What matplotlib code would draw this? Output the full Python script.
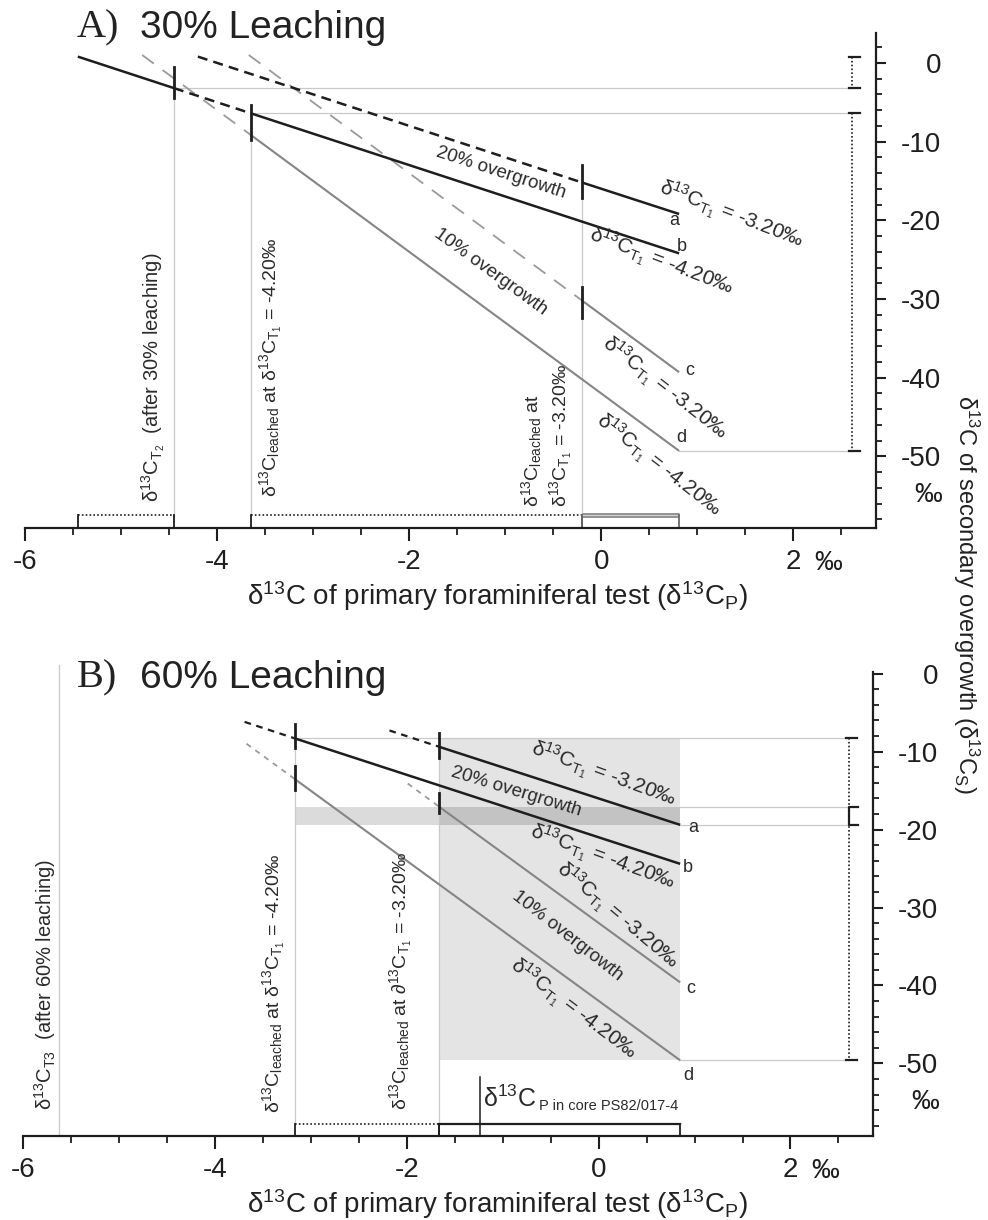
import numpy as np
import matplotlib
matplotlib.use('Agg')
import matplotlib.pyplot as plt
from matplotlib.patches import Rectangle

plt.rcParams['font.family'] = ['Liberation Sans', 'DejaVu Sans']
plt.rcParams['mathtext.fontset'] = 'custom'
plt.rcParams['mathtext.rm'] = 'Liberation Sans'
plt.rcParams['mathtext.it'] = 'Liberation Sans:italic'
plt.rcParams['mathtext.bf'] = 'Liberation Sans:bold'

BLACK = '#1e1e1e'
GRAY = '#858585'
DGRAY = '#9a9a9a'
GUIDE = '#c9c9c9'

# axis ticks
x_major = [-6, -4, -2, 0, 2]
x_labels = ['-6', '-4', '-2', '0', '2']
y_major = [0, -10, -20, -30, -40, -50]
y_labels = ['0', '-10', '-20', '-30', '-40', '-50']

# ---- panel A: 30 % leaching (d13C_P, d13C_S endpoints)
A_a_dash = ([-4.2, -0.2], [0.8, -15.2])
A_a = ([-0.2, 0.81], [-15.2, -19.2])
A_b1 = ([-5.45, -4.45], [0.8, -3.2])
A_b_dash = ([-4.45, -3.65], [-3.2, -6.4])
A_b2 = ([-3.65, 0.81], [-6.4, -24.2])
A_c_dash = ([-3.67, -0.2], [1.0, -30.2])
A_c = ([-0.2, 0.81], [-30.2, -39.3])
A_d_dash = ([-4.78, -3.65], [1.0, -9.15])
A_d = ([-3.65, 0.81], [-9.15, -49.3])
A_marks = [(-4.45, -0.5, -4.5), (-3.65, -5.3, -9.8), (-0.2, -13.0, -17.2), (-0.2, -28.5, -32.4)]

# ---- panel B: 60 % leaching
B_a_dash = ([-2.18, -1.66], [-7.3, -9.4])
B_a = ([-1.66, 0.85], [-9.4, -19.4])
B_b_dash = ([-3.69, -3.17], [-6.2, -8.3])
B_b = ([-3.17, 0.85], [-8.3, -24.4])
B_c_dash = ([-1.99, -1.66], [-14.1, -17.1])
B_c = ([-1.66, 0.85], [-17.1, -39.6])
B_d_dash = ([-3.67, -3.17], [-9.0, -13.5])
B_d = ([-3.17, 0.85], [-13.5, -49.6])
B_marks = [(-3.17, -6.5, -9.6), (-3.17, -11.9, -14.9), (-1.66, -7.6, -10.8), (-1.66, -15.3, -17.9)]
B_box = (-1.66, 0.85, -8.3, -49.6)
B_band = (-3.17, 0.85, -17.1, -19.4)
core_p = -1.24

lbl_a = 'δ$^{13}$C$_{\\mathrm{T}_1}$ = -3.20‰'
lbl_b = 'δ$^{13}$C$_{\\mathrm{T}_1}$ = -4.20‰'


def seg(ax, xy, color, lw, dashes=None):
    line, = ax.plot(xy[0], xy[1], color=color, lw=lw, solid_capstyle='butt')
    if dashes:
        line.set_dashes(dashes)


def marks(ax, ms):
    for x, y0, y1 in ms:
        ax.plot([x, x], [y0, y1], color=BLACK, lw=2)


def guide(ax, xs, ys, **kw):
    ax.plot(xs, ys, color=GUIDE, lw=0.9, **kw)


def bottom_bracket(ax, x0, x1, y, style):
    if style == 'dot':
        ax.plot([x0, x1], [y, y], color=BLACK, lw=1.2, ls=(0, (1, 1.3)))
        c, w = BLACK, 1.3
    elif style == 'gray':
        ax.plot([x0, x1], [y, y], color='#8a8a8a', lw=3.5, solid_capstyle='butt')
        ax.plot([x0, x1], [y, y], color='#d0d0d0', lw=1.0, solid_capstyle='butt')
        c, w = '#6a6a6a', 1.3
    else:
        ax.plot([x0, x1], [y, y], color=BLACK, lw=1.6)
        c, w = BLACK, 1.3
    for x in (x0, x1):
        ax.plot([x, x], [y, y - 1.6], color=c, lw=w)


def right_bracket(ax, x, y0, y1):
    ax.plot([x, x], [y0, y1], color=BLACK, lw=1.2, ls=(0, (1, 1.3)))
    for y in (y0, y1):
        ax.plot([x - 0.03, x + 0.08], [y, y], color=BLACK, lw=1.6)


def setup(ax, ylim, ymin_minor):
    ax.set_xlim(-6, 2.86)
    ax.set_ylim(*ylim)
    ax.spines['top'].set_visible(False)
    ax.spines['left'].set_visible(False)
    for s in ('bottom', 'right'):
        ax.spines[s].set_linewidth(1.6)
        ax.spines[s].set_color(BLACK)
    ax.yaxis.tick_right()
    ax.set_xticks(x_major)
    ax.set_xticklabels(x_labels)
    ax.set_xticks(np.arange(-6, 2.6, 0.5), minor=True)
    ax.set_yticks(y_major)
    ax.set_yticklabels(y_labels)
    ax.set_yticks(np.arange(-58, ymin_minor + 0.1, 2), minor=True)
    ax.tick_params(axis='x', which='major', direction='out', length=9, width=1.5,
                   pad=6, labelsize=20, colors=BLACK)
    ax.tick_params(axis='x', which='minor', direction='out', length=5, width=1.3, colors=BLACK)
    ax.tick_params(axis='y', which='major', direction='out', length=7, width=1.5,
                   pad=40, labelsize=20, colors=BLACK)
    ax.tick_params(axis='y', which='minor', direction='out', length=4.5, width=1.3, colors=BLACK)
    for t in ax.get_yticklabels():
        t.set_ha('right')
    ax.annotate('‰', xy=(2, 0), xycoords=('data', 'axes fraction'), xytext=(15, -15.5),
                textcoords='offset points', ha='left', va='top', fontsize=20, color=BLACK)
    ax.annotate('‰', xy=(1, -54.9), xycoords=('axes fraction', 'data'), xytext=(47.5, 0),
                textcoords='offset points', ha='right', va='center', fontsize=20, color=BLACK)


def slope_text(ax, x, y, s, rot, size=15):
    ax.text(x, y, s, rotation=rot, rotation_mode='anchor', ha='center', va='center',
            fontsize=size, color='#2a2a2a')


def vtext(ax, x, y, s, size=14):
    ax.text(x, y, s, rotation=90, ha='center', va='bottom', fontsize=size, color='#2a2a2a')


fig = plt.figure(figsize=(9.88, 12.2), dpi=100)
axA = fig.add_axes([25 / 988, 1 - 528 / 1220, 851 / 988, 495 / 1220])
axB = fig.add_axes([23 / 988, 1 - 1136 / 1220, 850 / 988, 464 / 1220])

# ================= panel A
ax = axA
setup(ax, (-59.1, 3.8), 2)
guide(ax, [-4.45, -4.45], [-3.2, -57.5])
guide(ax, [-3.65, -3.65], [-6.4, -57.5])
guide(ax, [-0.2, -0.2], [-15.2, -57.5])
guide(ax, [-4.45, 2.61], [-3.2, -3.2])
guide(ax, [-3.65, 2.61], [-6.4, -6.4])
guide(ax, [0.81, 2.61], [-49.3, -49.3])

seg(ax, A_c_dash, DGRAY, 1.3, (8, 6))
seg(ax, A_d_dash, DGRAY, 1.3, (8, 6))
seg(ax, A_c, GRAY, 1.5)
seg(ax, A_d, GRAY, 1.5)
seg(ax, A_a_dash, BLACK, 1.8, (4, 2.5))
seg(ax, A_a, BLACK, 1.8)
seg(ax, A_b1, BLACK, 1.8)
seg(ax, A_b_dash, BLACK, 1.8, (4, 2.5))
seg(ax, A_b2, BLACK, 1.8)
marks(ax, A_marks)

bottom_bracket(ax, -5.45, -4.45, -57.4, 'dot')
bottom_bracket(ax, -3.65, -0.2, -57.4, 'dot')
bottom_bracket(ax, -0.2, 0.81, -57.4, 'gray')
right_bracket(ax, 2.61, 0.8, -3.2)
right_bracket(ax, 2.61, -6.4, -49.3)

slope_text(ax, -1.04, -14.0, '20% overgrowth', -18, 13.5)
slope_text(ax, 1.36, -19.3, lbl_a, -21)
slope_text(ax, 0.63, -25.3, lbl_b, -21)
slope_text(ax, -1.15, -26.6, '10% overgrowth', -36, 13.5)
slope_text(ax, 0.66, -41.3, lbl_a, -38)
slope_text(ax, 0.6, -51.1, lbl_b, -38)
for x, y, s in [(0.76, -20.0, 'a'), (0.84, -23.3, 'b'), (0.92, -39.1, 'c'), (0.83, -47.6, 'd')]:
    ax.text(x, y, s, ha='center', va='center', fontsize=13, color='#2a2a2a')

vtext(ax, -4.66, -55.8, 'δ$^{13}$C$_{\\mathrm{T}_2}$  (after 30% leaching)', 14.5)
vtext(ax, -3.44, -55.1, 'δ$^{13}$C$_{\\mathrm{leached}}$ at δ$^{13}$C$_{\\mathrm{T}_1}$ = -4.20‰')
vtext(ax, -0.73, -56.4, 'δ$^{13}$C$_{\\mathrm{leached}}$ at')
vtext(ax, -0.42, -56.4, 'δ$^{13}$C$_{\\mathrm{T}_1}$ = -3.20‰')

# ================= panel B
ax = axB
setup(ax, (-59.3, 0.2), 0)
ax.add_patch(Rectangle((B_box[0], B_box[3]), B_box[1] - B_box[0], B_box[2] - B_box[3],
                       facecolor='#e4e4e4', edgecolor='none', zorder=0))
ax.add_patch(Rectangle((B_band[0], B_band[3]), B_band[1] - B_band[0], B_band[2] - B_band[3],
                       facecolor='black', alpha=0.14, edgecolor='none', zorder=0.5))
guide(ax, [-5.62, -5.62], [1.15, -59.3], clip_on=False)
guide(ax, [-3.17, -3.17], [-8.3, -57.7])
guide(ax, [-1.66, -1.66], [-9.4, -57.7])
guide(ax, [-3.17, 2.61], [-8.3, -8.3])
guide(ax, [0.85, 2.61], [-17.1, -17.1])
guide(ax, [0.85, 2.61], [-19.4, -19.4])
guide(ax, [0.85, 2.61], [-49.6, -49.6])

seg(ax, B_c_dash, DGRAY, 1.3, (3, 3))
seg(ax, B_d_dash, DGRAY, 1.3, (3, 3))
seg(ax, B_c, GRAY, 1.5)
seg(ax, B_d, GRAY, 1.5)
seg(ax, B_a_dash, BLACK, 1.6, (3, 2.5))
seg(ax, B_b_dash, BLACK, 1.6, (3, 2.5))
seg(ax, B_a, BLACK, 1.8)
seg(ax, B_b, BLACK, 1.8)
marks(ax, B_marks)

bottom_bracket(ax, -3.17, -1.66, -57.7, 'dot')
bottom_bracket(ax, -1.66, 0.85, -57.7, 'solid')
ax.plot([core_p, core_p], [-51.7, -59.3], color=BLACK, lw=1.1)
ax.text(-1.21, -55.6, 'δ$^{13}$C', ha='left', va='baseline', fontsize=18, color='#2a2a2a')
ax.text(-0.62, -56.0, 'P in core PS82/017-4', ha='left', va='baseline', fontsize=10.5,
        color='#2a2a2a')
right_bracket(ax, 2.61, -8.3, -49.6)
ax.plot([2.7, 2.61, 2.61, 2.7], [-17.1, -17.1, -19.4, -19.4], color=BLACK, lw=1.6)

slope_text(ax, 0.05, -12.9, lbl_a, -20)
slope_text(ax, -0.86, -15.1, '20% overgrowth', -17, 13.5)
slope_text(ax, 0.04, -23.5, lbl_b, -20)
slope_text(ax, 0.2, -31.1, lbl_a, -40)
slope_text(ax, -0.32, -33.6, '10% overgrowth', -38, 13.5)
slope_text(ax, -0.26, -43.0, lbl_b, -37)
for x, y, s in [(0.99, -19.8, 'a'), (0.93, -24.9, 'b'), (0.96, -40.4, 'c'), (0.94, -51.5, 'd')]:
    ax.text(x, y, s, ha='center', va='center', fontsize=13, color='#2a2a2a')

vtext(ax, -5.77, -56.0, 'δ$^{13}$C$_{\\mathrm{T3}}$  (after 60% leaching)', 14.5)
vtext(ax, -3.39, -56.4, 'δ$^{13}$C$_{\\mathrm{leached}}$ at δ$^{13}$C$_{\\mathrm{T}_1}$ = -4.20‰')
vtext(ax, -2.06, -56.0, 'δ$^{13}$C$_{\\mathrm{leached}}$ at ∂$^{13}$C$_{\\mathrm{T}_1}$ = -3.20‰')

# ================= titles and axis labels
for yc, letter, txt in [(28, 'A)', '30% Leaching'), (678, 'B)', '60% Leaching')]:
    fig.text(77 / 988, 1 - yc / 1220, letter, family='Liberation Serif', fontsize=29,
             ha='left', va='center', color='#222222')
    fig.text(140 / 988, 1 - yc / 1220, txt, fontsize=28, ha='left', va='center', color='#222222')

xlab = 'δ$^{13}$C of primary foraminiferal test (δ$^{13}$C$_\\mathrm{P}$)'
fig.text(497 / 988, 1 - 596 / 1220, xlab, fontsize=20, ha='center', va='center', color='#222222')
fig.text(497 / 988, 1 - 1204 / 1220, xlab, fontsize=20, ha='center', va='center', color='#222222')
fig.text(966 / 988, 1 - 595 / 1220, 'δ$^{13}$C of secondary overgrowth (δ$^{13}$C$_\\mathrm{S}$)',
         rotation=270, fontsize=17, ha='center', va='center', color='#222222')

fig.savefig('out.png', dpi=100)
